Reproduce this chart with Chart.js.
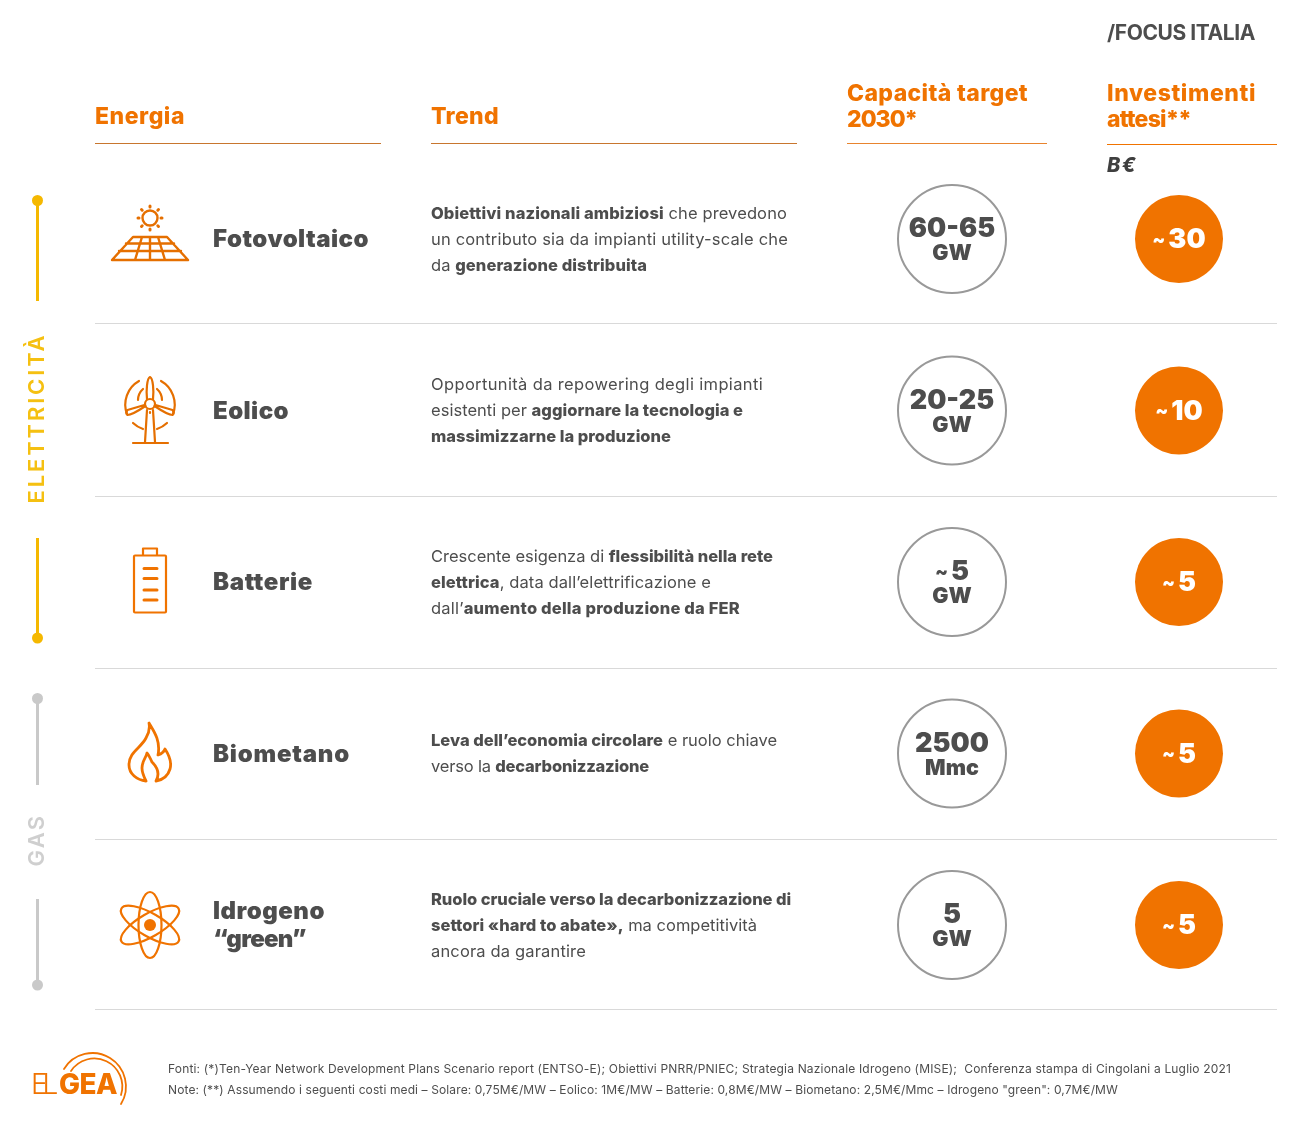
<!DOCTYPE html>
<html lang="it">
<head>
<meta charset="utf-8">
<title>Focus Italia</title>
<script src="https://cdn.jsdelivr.net/npm/chart.js@4"></script>
<style>
  html, body { margin: 0; background: #fff; }
  #page { position: relative; width: 1307px; height: 1122px; overflow: hidden; font-family: Inter, sans-serif; color: #4d4d4d; }
  #page canvas { position: absolute; left: 0; top: 0; }
  .t { position: absolute; white-space: nowrap; line-height: 1; transform: translateY(-50%); }
  .t b { font-weight: 800; }
  .head { color: #f07300; font-size: 23px; font-weight: 800; }
  .name { font-size: 24px; font-weight: 900; }
  .body { font-size: 16.5px; font-weight: 400; }
  .note { font-size: 12px; font-weight: 400; }
  .rule { position: absolute; height: 1px; }
  svg { position: absolute; left: 0; top: 0; }
</style>
</head>
<body>
<div id="page">
  <canvas id="chart" width="1307" height="1122"></canvas>
  <svg width="1307" height="1122" fill="none" stroke-linecap="round" stroke-linejoin="round">
    <!-- sun and panel -->
    <g stroke="#e56f00" stroke-width="2.4">
      <circle cx="150" cy="218" r="7.5"/>
      <path stroke-width="3" d="M150 206v1M150 229v1M138 218h1M161 218h1M141.500 209.500l.7.7M158.500 209.500l-.7.7M141.500 226.500l.7-.7M158.500 226.500l-.7-.7"/>
      <path d="M133 237h34l21 23H112zM126 243.500h48M119 251h62M142 237l-7 23M158 237l7 23M150 237v23"/>
    </g>
    <!-- wind turbine -->
    <g stroke="#e56f00" stroke-width="2.2">
      <circle cx="150" cy="404" r="5"/>
      <path d="M147 399c-1-8 0-21 3-22 3 1 4 14 3 22M145.500 406c-6 4-15 9-18 9-2-2-1-4 0-5l17-5M154.500 406c6 4 15 9 18 9 2-2 1-4 0-5l-17-5M147 410l-2 32M153 410l2 32M133 443h35M150 412v1"/>
      <path d="M139 381a27 27 0 0 0-12 33M161 381a27 27 0 0 1 12 33M133 423a27 27 0 0 0 10 6M167 423a27 27 0 0 1-10 6M138 400a15 15 0 0 1 5-11M162 400a15 15 0 0 0-5-11"/>
    </g>
    <!-- battery -->
    <g stroke="#f07300" stroke-width="2.2">
      <rect x="134" y="555.500" width="32" height="57" rx="1"/>
      <path d="M143 555v-6.500h14v6.500"/>
      <path stroke-width="3" d="M144 568.500h13M144 578.500h13M144 590h13M144 600h13"/>
    </g>
    <!-- flame -->
    <path stroke="#f07300" stroke-width="2.800" d="M149 723C153 730 161 740 158 755C161 754 164 752 165 749C169 755 172 762 170 769C168 776 162 780 156 781C160 774 157 767 152 762C150 758 149 755 147 753C146 758 142 761 142 768C142 773 144 777 146 781C137 780 129 774 129 765C129 752 141 748 146 738C149 733 150 728 149 723Z"/>
    <!-- atom -->
    <g stroke="#f07300" stroke-width="2.2">
      <ellipse cx="150" cy="925" rx="11.500" ry="33"/>
      <ellipse cx="150" cy="925" rx="11.500" ry="33" transform="rotate(60 150 925)"/>
      <ellipse cx="150" cy="925" rx="11.500" ry="33" transform="rotate(-60 150 925)"/>
      <circle cx="150" cy="925" r="6" fill="#f07300" stroke="none"/>
    </g>
    <!-- side brackets -->
    <g stroke="#f5b800" stroke-width="3" stroke-linecap="butt">
      <path d="M37.500 200V301M37.500 538V638"/>
      <circle cx="37.500" cy="200.500" r="5.500" fill="#f5b800" stroke="none"/>
      <circle cx="37.500" cy="638" r="5.500" fill="#f5b800" stroke="none"/>
    </g>
    <g stroke="#c9c9c9" stroke-width="3" stroke-linecap="butt">
      <path d="M37.500 698V785M37.500 899V985"/>
      <circle cx="37.500" cy="698.500" r="5.500" fill="#c9c9c9" stroke="none"/>
      <circle cx="37.500" cy="985" r="5.500" fill="#c9c9c9" stroke="none"/>
    </g>
    <!-- logo arcs -->
    <g stroke="#f07300" stroke-width="1.800">
      <path d="M64 1069A33 33 0 0 1 121 1104"/>
      <path d="M71 1071A28 28 0 0 1 121 1095"/>
    </g>
  </svg>
</div>
<script>
const energyNames = ['Fotovoltaico', 'Eolico', 'Batterie', 'Biometano', 'Idrogeno “green”'];
const columns = ['Capacità target 2030*', 'Investimenti attesi**'];
const capacityLabels = ['60-65', '20-25', '~5', '2500', '5'];
const capacityUnits = ['GW', 'GW', 'GW', 'Mmc', 'GW'];
const investValues = [30, 10, 5, 5, 5];
const investLabels = ['~30', '~10', '~5', '~5', '~5'];

const trendLines = [
    ['<b>Obiettivi nazionali ambiziosi</b> che prevedono', 'un contributo sia da impianti utility-scale che', 'da <b>generazione distribuita</b>'],
    ['Opportunità da repowering degli impianti', 'esistenti per <b>aggiornare la tecnologia e</b>', '<b>massimizzarne la produzione</b>'],
    ['Crescente esigenza di <b>flessibilità nella rete</b>', '<b>elettrica</b>, data dall’elettrificazione e', 'dall’<b>aumento della produzione da FER</b>'],
    ['<b>Leva dell’economia circolare</b> e ruolo chiave', 'verso la <b>decarbonizzazione</b>'],
    ['<b>Ruolo cruciale verso la decarbonizzazione di</b>', '<b>settori «hard to abate»,</b> ma competitività', 'ancora da garantire']
];
const trendWidths = [[356, 357, 216], [332, 312, 240], [342, 280, 309], [346, 218], [360, 326, 155]];
const nameWidths = [[156], [76], [100], [137], [112, 93]];

const page = document.getElementById('page');

function addText(cls, html, x, y, width, extra) {
    const el = document.createElement('div');
    el.className = 't ' + cls;
    el.innerHTML = html;
    el.style.left = x + 'px';
    el.style.top = y + 'px';
    const { transform, ...rest } = extra || {};
    Object.assign(el.style, rest);
    page.appendChild(el);
    // no Montserrat here, so stretch the tracking to the original line width
    if (width) {
        const chars = el.textContent.length;
        el.style.letterSpacing = ((width - el.getBoundingClientRect().width) / chars) + 'px';
    }
    if (transform) el.style.transform = transform;
    return el;
}

function addRule(x, y, w, color) {
    const el = document.createElement('div');
    el.className = 'rule';
    el.style.cssText = `left:${x}px;top:${y}px;width:${w}px;background:${color}`;
    page.appendChild(el);
}

// the tilde is small in the original, so it is drawn apart from the number
function drawValue(ctx, label, cx, cy) {
    const approx = label.startsWith('~');
    const number = approx ? label.slice(1) : label;
    ctx.font = '900 27px Inter';
    const w = ctx.measureText(number).width;
    const tildeW = approx ? 16 : 0;
    const left = cx - (w + tildeW) / 2;
    ctx.textAlign = 'left';
    ctx.fillText(number, left + tildeW, cy);
    if (approx) {
        ctx.font = '900 19px Inter';
        ctx.fillText('~', left, cy);
    }
}

const circleLabels = {
    id: 'circleLabels',
    afterDatasetsDraw(chart) {
        const { ctx, scales: { x, y } } = chart;
        ctx.save();
        ctx.textBaseline = 'middle';
        energyNames.forEach((name, i) => {
            const cy = y.getPixelForValue(i);
            const xCap = x.getPixelForValue(0);
            const xInv = x.getPixelForValue(1);
            ctx.fillStyle = '#4d4d4d';
            drawValue(ctx, capacityLabels[i], xCap, cy - 10);
            ctx.textAlign = 'center';
            ctx.font = '900 21.500px Inter';
            ctx.fillText(capacityUnits[i], xCap, cy + 15);
            ctx.fillStyle = '#fff';
            drawValue(ctx, investLabels[i], xInv, cy + 1);
        });
        ctx.restore();
    }
};

const chart = new Chart(document.getElementById('chart'), {
    type: 'bubble',
    data: {
        datasets: [
            {
                label: columns[0],
                data: energyNames.map((name, i) => ({ x: columns[0], y: name, r: 54, label: capacityLabels[i] })),
                backgroundColor: '#fff',
                borderColor: '#999',
                borderWidth: 2
            },
            {
                label: columns[1],
                data: energyNames.map((name, i) => ({ x: columns[1], y: name, r: 44, value: investValues[i] })),
                backgroundColor: '#f07300',
                borderWidth: 0
            }
        ]
    },
    options: {
        responsive: false,
        animation: false,
        events: [],
        clip: false,
        layout: { autoPadding: false, padding: { left: 838.5, right: 14.5, top: 153.25, bottom: 111.25 } },
        plugins: { legend: { display: false }, tooltip: { enabled: false } },
        scales: {
            x: { type: 'category', labels: columns, offset: true, display: false },
            y: { type: 'category', labels: energyNames, offset: true, display: false }
        }
    },
    plugins: [circleLabels]
});

// headers
addText('', '/FOCUS ITALIA', 1107, 32, 148, { fontSize: '21px', fontWeight: 700 });
addText('head', 'Energia', 95, 116, 90);
addText('head', 'Trend', 431, 116, 68);
addText('head', 'Capacità target', 847, 93, 181);
addText('head', '2030*', 847, 118.5, 70);
addText('head', 'Investimenti', 1107, 93, 149);
addText('head', 'attesi**', 1107, 118.5, 84);
addText('', 'B€', 1107, 165, 30, { fontSize: '20px', fontWeight: 800, fontStyle: 'italic', color: '#3f3f3f' });
addRule(95, 143, 286, '#c8762e');
addRule(431, 143, 366, '#c8762e');
addRule(847, 143, 200, '#e8842e');
addRule(1107, 144, 170, '#f07300');

// rows, anchored on the chart's own category scale
energyNames.forEach((name, i) => {
    const cy = chart.scales.y.getPixelForValue(i);
    const nameLines = name === 'Idrogeno “green”' ? ['Idrogeno', '“green”'] : [name];
    nameLines.forEach((line, j) => {
        addText('name', line, 213, cy + (j - (nameLines.length - 1) / 2) * 28, nameWidths[i][j]);
    });
    trendLines[i].forEach((line, j) => {
        addText('body', line, 431, Math.floor(cy) + (j - (trendLines[i].length - 1) / 2) * 26, trendWidths[i][j]);
    });
});
[323, 496, 668, 839, 1009].forEach(y => addRule(95, y, 1182, '#d9d9d9'));

// side labels
addText('', 'ELETTRICITÀ', 36, 418, 171, { fontSize: '22px', fontWeight: 600, color: '#f5c011', transform: 'translate(-50%,-50%) rotate(-90deg)' });
addText('', 'GAS', 36, 840, 53, { fontSize: '22px', fontWeight: 600, color: '#cfcfcf', transform: 'translate(-50%,-50%) rotate(-90deg)' });

// footer
addText('note', 'Fonti: (*)Ten-Year Network Development Plans Scenario report (ENTSO-E); Obiettivi PNRR/PNIEC; Strategia Nazionale Idrogeno (MISE);&nbsp; Conferenza stampa di Cingolani a Luglio 2021', 168, 1069, 1063);
addText('note', 'Note: (**) Assumendo i seguenti costi medi – Solare: 0,75M€/MW – Eolico: 1M€/MW – Batterie: 0,8M€/MW – Biometano: 2,5M€/Mmc – Idrogeno "green": 0,7M€/MW', 168, 1090, 950);
addText('', 'EL', 31, 1084, 22, { fontSize: '28px', fontWeight: 300, color: '#f07300' });
addText('', 'GEA', 59, 1084, 58, { fontSize: '28px', fontWeight: 800, color: '#f07300' });
</script>
</body>
</html>
